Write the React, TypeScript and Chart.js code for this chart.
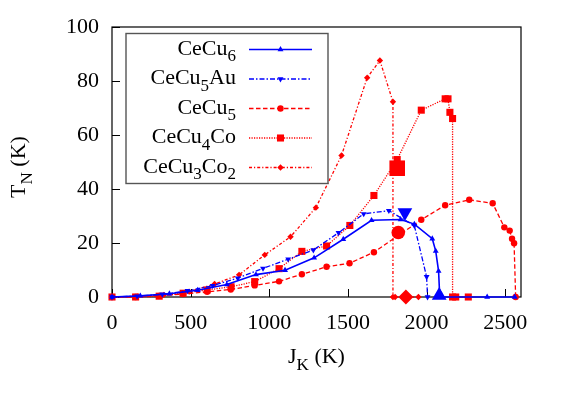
import React, { useEffect, useRef } from 'react';
import { Chart, registerables } from 'chart.js';

Chart.register(...registerables);

// Axis ticks
const xTicks = [0, 500, 1000, 1500, 2000, 2500];
const yTicks = [0, 20, 40, 60, 80, 100];

// CeCu6
const cecu6X = [0, 180, 365, 545, 730, 915, 1100, 1285, 1470, 1650, 1835, 1922, 2036, 2058, 2076, 2082, 2085, 2385, 2560];
const cecu6Y = [0, 0.4, 1.2, 2.5, 4.6, 8.3, 9.9, 14.5, 21.4, 28.4, 28.7, 27.0, 21.6, 17.0, 9.6, 2.0, 0, 0, 0];

// CeCu5Au
const cecu5auX = [0, 160, 320, 480, 640, 800, 960, 1120, 1280, 1440, 1600, 1760, 1922, 2000, 2006];
const cecu5auY = [0, 0.3, 1.0, 2.3, 4.2, 7.0, 10.6, 14.0, 17.4, 23.8, 30.8, 32.0, 26.4, 7.5, 0];

// CeCu5
const cecu5X = [0, 150, 300, 450, 605, 755, 907, 1062, 1207, 1364, 1510, 1665, 1966, 2118, 2271, 2420, 2494, 2528, 2543, 2556, 2566];
const cecu5Y = [0, 0, 0.4, 1.1, 1.9, 2.8, 4.3, 5.8, 8.4, 11.2, 12.5, 16.6, 28.6, 34.0, 36.0, 34.7, 25.8, 24.6, 21.6, 19.9, 0];

// CeCu4Co
const cecu4coX = [0, 150, 300, 452, 605, 757, 907, 1062, 1207, 1364, 1512, 1665, 1813, 1966, 2118, 2136, 2148, 2165, 2165, 2185, 2265];
const cecu4coY = [0, 0, 0.3, 1.4, 2.6, 3.8, 5.7, 10.5, 16.9, 18.9, 26.5, 37.6, 50.9, 69.2, 73.4, 73.4, 68.4, 66.1, 0, 0, 0];

// CeCu3Co2
const cecu3co2X = [0, 160, 330, 490, 652, 808, 971, 1135, 1296, 1459, 1622, 1703, 1786, 1786, 1800, 1948];
const cecu3co2Y = [0, 0.2, 0.8, 2.0, 4.8, 8.2, 15.6, 22.3, 33.1, 52.4, 81.2, 87.6, 72.3, 0, 0, 0];

// Reference points (large symbols)
const refX = [1813, 1820, 1862, 1868, 2080];
const refY = [47.7, 23.9, 31.3, 0, 0.6];
const refStyle = ['rect', 'circle', 'triangle', 'rectRot', 'triangle'];
const refRotation = [0, 0, 180, 0, 0];
const refRadius = [11, 6.8, 8.5, 7.5, 8.5];
const refColor = ['#ff0000', '#ff0000', '#0000ff', '#ff0000', '#0000ff'];

const BLUE = '#0000ff';
const RED = '#ff0000';
const FONT = '"Liberation Serif", "Times New Roman", serif';

type Seg = { t: string; sub?: boolean };

interface SeriesDef {
  label: Seg[];
  xs: number[];
  ys: number[];
  color: string;
  dash: number[];
  style: string;
  rotation: number;
  radius: number;
  width: number;
}

const series: SeriesDef[] = [
  { label: [{ t: 'CeCu' }, { t: '6', sub: true }], xs: cecu6X, ys: cecu6Y, color: BLUE, dash: [], style: 'triangle', rotation: 0, radius: 3.4, width: 1.6 },
  { label: [{ t: 'CeCu' }, { t: '5', sub: true }, { t: 'Au' }], xs: cecu5auX, ys: cecu5auY, color: BLUE, dash: [5, 2, 1.5, 2], style: 'triangle', rotation: 180, radius: 3.4, width: 1.3 },
  { label: [{ t: 'CeCu' }, { t: '5', sub: true }], xs: cecu5X, ys: cecu5Y, color: RED, dash: [4.5, 2.5], style: 'circle', rotation: 0, radius: 3.2, width: 1.3 },
  { label: [{ t: 'CeCu' }, { t: '4', sub: true }, { t: 'Co' }], xs: cecu4coX, ys: cecu4coY, color: RED, dash: [1.2, 1.3], style: 'rect', rotation: 0, radius: 5, width: 1.3 },
  { label: [{ t: 'CeCu' }, { t: '3', sub: true }, { t: 'Co' }, { t: '2', sub: true }], xs: cecu3co2X, ys: cecu3co2Y, color: RED, dash: [3, 2, 1.2, 2], style: 'rectRot', rotation: 0, radius: 3.2, width: 1.3 },
];

const MAIN_SIZE = 22;
const SUB_SIZE = 17;
const SUB_SHIFT = 6.5;

function drawRich(ctx: CanvasRenderingContext2D, segs: Seg[], x: number, y: number, align: 'left' | 'right' | 'center') {
  const widths = segs.map((s) => {
    ctx.font = `${s.sub ? SUB_SIZE : MAIN_SIZE}px ${FONT}`;
    return ctx.measureText(s.t).width;
  });
  const total = widths.reduce((a, b) => a + b, 0);
  let cx = align === 'left' ? x : align === 'right' ? x - total : x - total / 2;
  ctx.textAlign = 'left';
  ctx.textBaseline = 'alphabetic';
  segs.forEach((s, i) => {
    ctx.font = `${s.sub ? SUB_SIZE : MAIN_SIZE}px ${FONT}`;
    ctx.fillText(s.t, cx, y + (s.sub ? SUB_SHIFT : 0));
    cx += widths[i];
  });
}

function drawMarker(ctx: CanvasRenderingContext2D, style: string, x: number, y: number, r: number, rotation: number) {
  ctx.beginPath();
  if (style === 'circle') {
    ctx.arc(x, y, r, 0, Math.PI * 2);
  } else if (style === 'rect') {
    const s = r * Math.SQRT1_2;
    ctx.rect(x - s, y - s, 2 * s, 2 * s);
  } else if (style === 'rectRot') {
    ctx.moveTo(x - r, y);
    ctx.lineTo(x, y + r);
    ctx.lineTo(x + r, y);
    ctx.lineTo(x, y - r);
    ctx.closePath();
  } else {
    const d = rotation ? 1 : -1;
    ctx.moveTo(x, y + d * r);
    ctx.lineTo(x - r * 0.866, y - d * r * 0.5);
    ctx.lineTo(x + r * 0.866, y - d * r * 0.5);
    ctx.closePath();
  }
  ctx.fill();
}

// Frame, inward tick marks, axis titles and the key
const decorations = {
  id: 'decorations',
  beforeDatasetsDraw(chart: any) {
    const { ctx, chartArea: a, scales } = chart;
    ctx.save();
    ctx.strokeStyle = '#000';
    ctx.lineWidth = 1.2;
    ctx.strokeRect(a.left, a.top, a.right - a.left, a.bottom - a.top);
    ctx.lineWidth = 1;
    ctx.beginPath();
    yTicks.forEach((v) => {
      const py = Math.round(scales.y.getPixelForValue(v)) + 0.5;
      ctx.moveTo(a.left, py);
      ctx.lineTo(a.left + 8, py);
    });
    xTicks.forEach((v) => {
      const px = Math.round(scales.x.getPixelForValue(v)) + 0.5;
      ctx.moveTo(px, a.bottom);
      ctx.lineTo(px, a.bottom - 8);
    });
    ctx.stroke();
    ctx.restore();
  },
  afterDraw(chart: any) {
    const { ctx, chartArea: a } = chart;
    ctx.save();
    ctx.fillStyle = '#000';
    // x-axis title
    drawRich(ctx, [{ t: 'J' }, { t: 'K', sub: true }, { t: ' (K)' }], (a.left + a.right) / 2, 363, 'center');
    // y-axis title
    ctx.save();
    ctx.translate(25, 167);
    ctx.rotate(-Math.PI / 2);
    drawRich(ctx, [{ t: 'T' }, { t: 'N', sub: true }, { t: ' (K)' }], 0, 0, 'center');
    ctx.restore();

    // key
    const bx = 126, by = 33.5, bw = 202, bh = 150;
    ctx.fillStyle = '#fff';
    ctx.fillRect(bx, by, bw, bh);
    ctx.strokeStyle = '#555';
    ctx.lineWidth = 1.4;
    ctx.strokeRect(bx, by, bw, bh);
    series.forEach((s, i) => {
      const base = 54.5 + i * 29.5;
      const ly = base - 5;
      ctx.fillStyle = '#000';
      drawRich(ctx, s.label, 236, base, 'right');
      ctx.strokeStyle = s.color;
      ctx.lineWidth = s.width;
      ctx.setLineDash(s.dash);
      ctx.beginPath();
      ctx.moveTo(249, ly);
      ctx.lineTo(312, ly);
      ctx.stroke();
      ctx.setLineDash([]);
      ctx.fillStyle = s.color;
      drawMarker(ctx, s.style, 280.5, ly, s.radius, s.rotation);
    });
    ctx.restore();
  },
};

export default function App() {
  const canvasRef = useRef<HTMLCanvasElement | null>(null);

  useEffect(() => {
    const canvas = canvasRef.current;
    if (!canvas) return;

    const datasets: any[] = series.map((s) => ({
      data: s.xs.map((x, i) => ({ x, y: s.ys[i] })),
      showLine: true,
      borderColor: s.color,
      backgroundColor: s.color,
      borderWidth: s.width,
      borderDash: s.dash,
      pointStyle: s.style,
      pointRotation: s.rotation,
      pointRadius: s.radius,
      pointBackgroundColor: s.color,
      pointBorderColor: s.color,
      pointBorderWidth: 0,
      tension: 0,
      clip: false,
    }));

    datasets.push({
      data: refX.map((x, i) => ({ x, y: refY[i] })),
      showLine: false,
      pointStyle: refStyle,
      pointRotation: refRotation,
      pointRadius: refRadius,
      pointBackgroundColor: refColor,
      pointBorderColor: refColor,
      pointBorderWidth: 0,
      clip: false,
    });

    const tickFont = { family: FONT, size: 22 };

    const chart = new Chart(canvas, {
      type: 'scatter',
      data: { datasets },
      options: {
        animation: false,
        responsive: false,
        devicePixelRatio: 1,
        layout: { padding: { left: 0, right: 42, top: 27, bottom: 0 } },
        plugins: { legend: { display: false }, tooltip: { enabled: false } },
        scales: {
          x: {
            type: 'linear',
            min: 0,
            max: 2600,
            grid: { display: false, drawTicks: false },
            border: { display: false },
            ticks: { color: '#000', font: tickFont, padding: 13, maxRotation: 0, callback: (v: any) => String(v) },
            afterBuildTicks: (scale: any) => {
              scale.ticks = xTicks.map((v) => ({ value: v }));
            },
            afterFit: (scale: any) => {
              scale.height = 97;
            },
          },
          y: {
            type: 'linear',
            min: 0,
            max: 100,
            grid: { display: false, drawTicks: false },
            border: { display: false },
            ticks: { color: '#000', font: tickFont, padding: 13, callback: (v: any) => String(v) },
            afterBuildTicks: (scale: any) => {
              scale.ticks = yTicks.map((v) => ({ value: v }));
            },
            afterFit: (scale: any) => {
              scale.width = 112;
            },
          },
        },
      } as any,
      plugins: [decorations],
    });

    // Redraw once the serif face is ready so measured labels use it
    let alive = true;
    const fonts = (document as any).fonts;
    if (fonts && fonts.load) {
      Promise.all([
        fonts.load(`${MAIN_SIZE}px "Liberation Serif"`),
        fonts.load(`${SUB_SIZE}px "Liberation Serif"`),
      ]).then(() => {
        if (alive) chart.update('none');
      }).catch(() => {});
    }

    return () => {
      alive = false;
      chart.destroy();
    };
  }, []);

  return (
    <div style={{ position: 'fixed', left: 0, top: 0, width: 563, height: 394, background: '#fff', fontFamily: FONT }}>
      <canvas ref={canvasRef} width={563} height={394} style={{ width: 563, height: 394, display: 'block' }} />
    </div>
  );
}
